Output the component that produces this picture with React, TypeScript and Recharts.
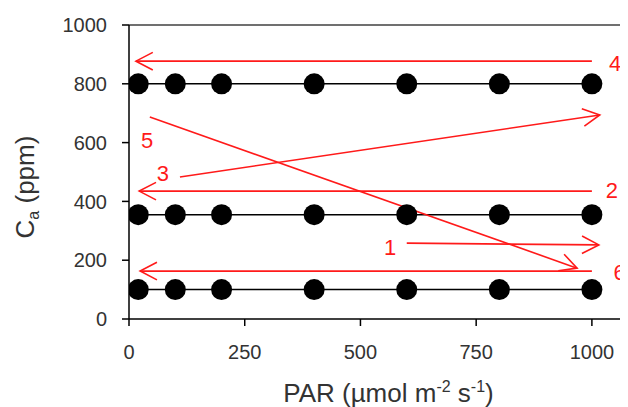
import React from "react";
import {
  LineChart,
  Line,
  XAxis,
  YAxis,
  ReferenceLine,
  ReferenceDot,
  Label,
} from "recharts";

// PAR steps measured at each CO2 level
const parLevels = [20, 100, 200, 400, 600, 800, 1000];
const highCa = [800, 800, 800, 800, 800, 800, 800];
const ambientCa = [355, 355, 355, 355, 355, 355, 355];
const lowCa = [100, 100, 100, 100, 100, 100, 100];

const xTicks = [0, 250, 500, 750, 1000];
const yTicks = [0, 200, 400, 600, 800, 1000];

// measurement sequence arrows: [par, ca] from -> to (arrow tip)
const arrowNames = ["1", "2", "3", "4", "5", "6"];
const arrowFrom = [
  [600, 258],
  [1000, 435],
  [110, 483],
  [1000, 877],
  [45, 687],
  [1000, 163],
];
const arrowTo = [
  [1015, 252],
  [22, 435],
  [1017, 694],
  [15, 877],
  [968, 173],
  [24, 163],
];
const labelAt = [
  [564, 245],
  [1043, 439],
  [73, 497],
  [1050, 871],
  [39, 609],
  [1060, 160],
];

const RED = "#ff1a1a";
const FONT = "'Liberation Sans', Arial, sans-serif";

const toRows = (vals: number[]) =>
  parLevels.map((par, i) => ({ par, ca: vals[i] }));

const ArrowShape = (p: any) => {
  const { x1, y1, x2, y2 } = p;
  const ang = Math.atan2(y2 - y1, x2 - x1);
  const len = 19;
  const spread = 0.48;
  const ax = x2 - len * Math.cos(ang - spread);
  const ay = y2 - len * Math.sin(ang - spread);
  const bx = x2 - len * Math.cos(ang + spread);
  const by = y2 - len * Math.sin(ang + spread);
  return (
    <g>
      <line x1={x1} y1={y1} x2={x2} y2={y2} stroke={RED} strokeWidth={1.6} />
      <path
        d={`M${ax},${ay}L${x2},${y2}L${bx},${by}`}
        fill="none"
        stroke={RED}
        strokeWidth={1.6}
      />
    </g>
  );
};

const XTitle = (props: any) => {
  const { x, y, width } = props.viewBox;
  return (
    <text
      x={x + width / 2 + 10}
      y={y + 83}
      textAnchor="middle"
      fill="#333"
      fontSize={26}
      fontFamily={FONT}
    >
      PAR (µmol m
      <tspan dy={-10} fontSize={16}>
        -2
      </tspan>
      <tspan dy={10}> s</tspan>
      <tspan dy={-10} fontSize={16}>
        -1
      </tspan>
      <tspan dy={10}>)</tspan>
    </text>
  );
};

const YTitle = (props: any) => {
  const { y, height } = props.viewBox;
  const cx = 17;
  const cy = y + height / 2 + 15;
  return (
    <text
      x={cx}
      y={cy}
      dy={9}
      transform={`rotate(-90, ${cx}, ${cy})`}
      textAnchor="middle"
      fill="#333"
      fontSize={26}
      fontFamily={FONT}
    >
      C
      <tspan dy={5} fontSize={16}>
        a
      </tspan>
      <tspan dy={-5}> (ppm)</tspan>
    </text>
  );
};

export default function App() {
  const dotStyle = { r: 10.5, fill: "#000", stroke: "none" };
  return (
    <div style={{ fontFamily: FONT }}>
      <LineChart
        width={620}
        height={399}
        margin={{ top: 17, right: 0, left: 0, bottom: 0 }}
      >
        <XAxis
          dataKey="par"
          type="number"
          domain={[0, 1078]}
          ticks={xTicks}
          allowDataOverflow
          height={88}
          tickSize={7}
          tickMargin={19}
          axisLine={{ stroke: "#000", strokeWidth: 1.5 }}
          tickLine={{ stroke: "#000", strokeWidth: 1.5 }}
          tick={{ fill: "#333", fontSize: 20, fontFamily: FONT }}
        >
          <Label content={XTitle} />
        </XAxis>
        <YAxis
          type="number"
          domain={[0, 1000]}
          ticks={yTicks}
          width={121}
          tickSize={7}
          tickMargin={15}
          axisLine={{ stroke: "#000", strokeWidth: 1.5 }}
          tickLine={{ stroke: "#000", strokeWidth: 1.5 }}
          tick={{ fill: "#333", fontSize: 20, fontFamily: FONT }}
        >
          <Label content={YTitle} />
        </YAxis>
        <ReferenceLine y={1000} stroke="#404040" strokeWidth={1.5} />
        {[highCa, ambientCa, lowCa].map((vals, i) => (
          <Line
            key={i}
            data={toRows(vals)}
            dataKey="ca"
            stroke="#000"
            strokeWidth={1.5}
            dot={dotStyle}
            activeDot={false}
            isAnimationActive={false}
          />
        ))}
        {arrowNames.map((name, i) => (
          <ReferenceLine
            key={"a" + name}
            segment={[
              { x: arrowFrom[i][0], y: arrowFrom[i][1] },
              { x: arrowTo[i][0], y: arrowTo[i][1] },
            ]}
            ifOverflow="visible"
            shape={ArrowShape}
          />
        ))}
        {arrowNames.map((name, i) => (
          <ReferenceDot
            key={"l" + name}
            x={labelAt[i][0]}
            y={labelAt[i][1]}
            r={0}
            fill="none"
            stroke="none"
            ifOverflow="visible"
            label={{
              value: name,
              position: "center",
              fill: RED,
              fontSize: 22,
              fontFamily: FONT,
            }}
          />
        ))}
      </LineChart>
    </div>
  );
}
